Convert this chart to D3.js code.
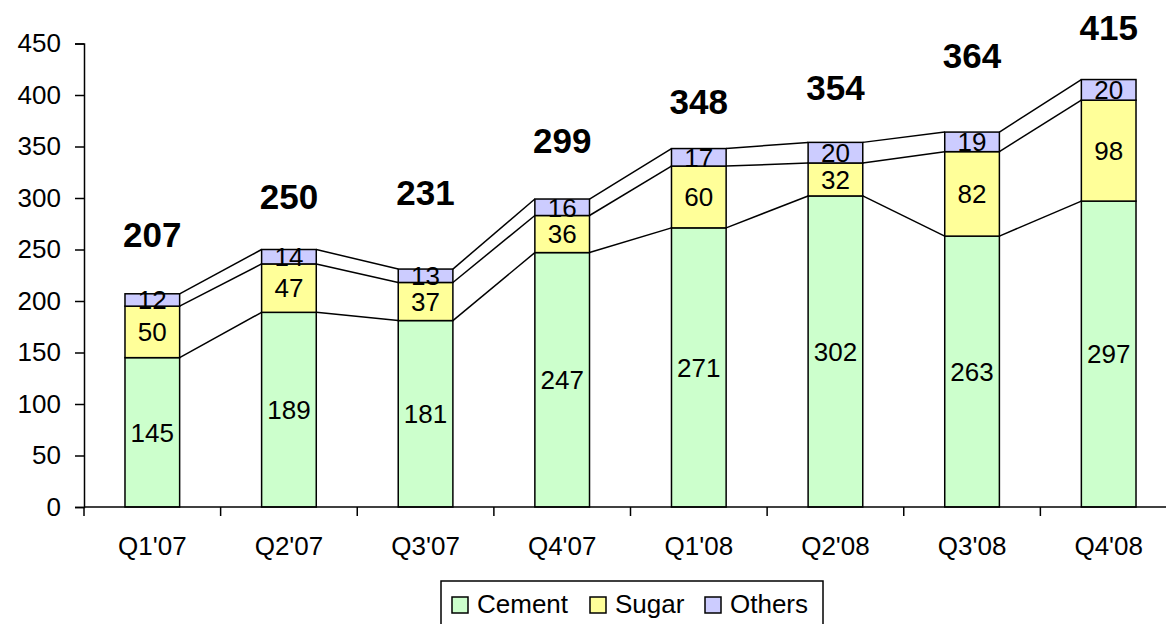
<!DOCTYPE html>
<html>
<head>
<meta charset="utf-8">
<script src="https://cdn.jsdelivr.net/npm/d3@7"></script>
<style>
  body { margin: 0; background: #fff; }
  svg { display: block; font-family: Arial, "Liberation Sans", sans-serif; }
</style>
</head>
<body>
<script>
var quarters = ["Q1'07", "Q2'07", "Q3'07", "Q4'07", "Q1'08", "Q2'08", "Q3'08", "Q4'08"]
var cement = [145, 189, 181, 247, 271, 302, 263, 297]
var sugar = [50, 47, 37, 36, 60, 32, 82, 98]
var others = [12, 14, 13, 16, 17, 20, 19, 20]
var totals = [207, 250, 231, 299, 348, 354, 364, 415]
// where the total labels sit in axis units
var totalLabelAt = [265, 302, 305, 356, 394, 407, 438, 466]
var seriesNames = ['Cement', 'Sugar', 'Others']
var yTicks = [0, 50, 100, 150, 200, 250, 300, 350, 400, 450]

var W = 1166, H = 624
var colors = { Cement: '#ccffcc', Sugar: '#ffff99', Others: '#ccccff' }

var svg = d3.select('body').append('svg')
  .attr('width', W).attr('height', H)

var x = d3.scaleBand().domain(quarters).range([84, 1177]).paddingInner(0.6).paddingOuter(0.3)
var y = d3.scaleLinear().domain([0, 450]).range([507, 43.5])

var rows = quarters.map(function(q, i){
  return { q: q, Cement: cement[i], Sugar: sugar[i], Others: others[i] }
})
var stack = d3.stack().keys(seriesNames)(rows)

// connector lines between bar tops
var bw = x.bandwidth()
stack.forEach(function(s){
  for (var i = 0; i < s.length - 1; i++) {
    svg.append('line')
      .attr('x1', x(quarters[i]) + bw).attr('y1', y(s[i][1]))
      .attr('x2', x(quarters[i + 1])).attr('y2', y(s[i + 1][1]))
      .attr('stroke', '#000').attr('stroke-width', 1.5)
  }
})

stack.forEach(function(s){
  var g = svg.append('g')
  g.selectAll('rect').data(s).enter().append('rect')
    .attr('x', function(d){ return x(d.data.q) })
    .attr('y', function(d){ return y(d[1]) })
    .attr('width', bw)
    .attr('height', function(d){ return y(d[0]) - y(d[1]) })
    .attr('fill', colors[s.key])
    .attr('stroke', '#000').attr('stroke-width', 1.5)
  g.selectAll('text').data(s).enter().append('text')
    .attr('x', function(d){ return x(d.data.q) + bw / 2 })
    .attr('y', function(d){ return y((d[0] + d[1]) / 2) })
    .attr('dy', '0.36em')
    .attr('text-anchor', 'middle')
    .style('font-size', '26px')
    .text(function(d){ return d.data[s.key] })
})

// totals
svg.selectAll('.total').data(totals).enter().append('text')
  .attr('class', 'total')
  .attr('x', function(d, i){ return x(quarters[i]) + bw / 2 })
  .attr('y', function(d, i){ return y(totalLabelAt[i]) })
  .attr('dy', '0.36em')
  .attr('text-anchor', 'middle')
  .style('font-size', '35px').style('font-weight', 'bold')
  .text(function(d){ return d })

// axes
var yAxis = svg.append('g').attr('transform', 'translate(84,0)')
  .call(d3.axisLeft(y).tickValues(yTicks).tickSize(9).tickPadding(14))
var xAxis = svg.append('g').attr('transform', 'translate(0,507)')
  .call(d3.axisBottom(x).tickSize(0).tickPadding(30))

;[yAxis, xAxis].forEach(function(a){
  a.select('.domain').attr('stroke', '#000').attr('stroke-width', 1.5)
  a.selectAll('line').attr('stroke', '#000').attr('stroke-width', 1.5)
  a.selectAll('text').style('font-size', '26px').style('font-family', 'Arial, "Liberation Sans", sans-serif').attr('fill', '#000')
})
xAxis.select('.domain').attr('d', 'M84,0H1177')

// category separators on the x axis
var step = x.step()
var bounds = d3.range(quarters.length + 1).map(function(i){ return 84 + i * step })
xAxis.selectAll('.sep').data(bounds).enter().append('line')
  .attr('class', 'sep')
  .attr('x1', function(d){ return d }).attr('x2', function(d){ return d })
  .attr('y1', 0).attr('y2', 9)
  .attr('stroke', '#000').attr('stroke-width', 1.5)

// legend
var lg = svg.append('g')
lg.append('rect').attr('x', 441).attr('y', 581).attr('width', 382).attr('height', 60)
  .attr('fill', '#fff').attr('stroke', '#000').attr('stroke-width', 1.5)
var legendX = [452, 590, 705]
seriesNames.forEach(function(n, i){
  lg.append('rect').attr('x', legendX[i]).attr('y', 597).attr('width', 16).attr('height', 16)
    .attr('fill', colors[n]).attr('stroke', '#000').attr('stroke-width', 1.5)
  lg.append('text').attr('x', legendX[i] + 25).attr('y', 613)
    .style('font-size', '26px').text(n)
})
</script>
</body>
</html>
